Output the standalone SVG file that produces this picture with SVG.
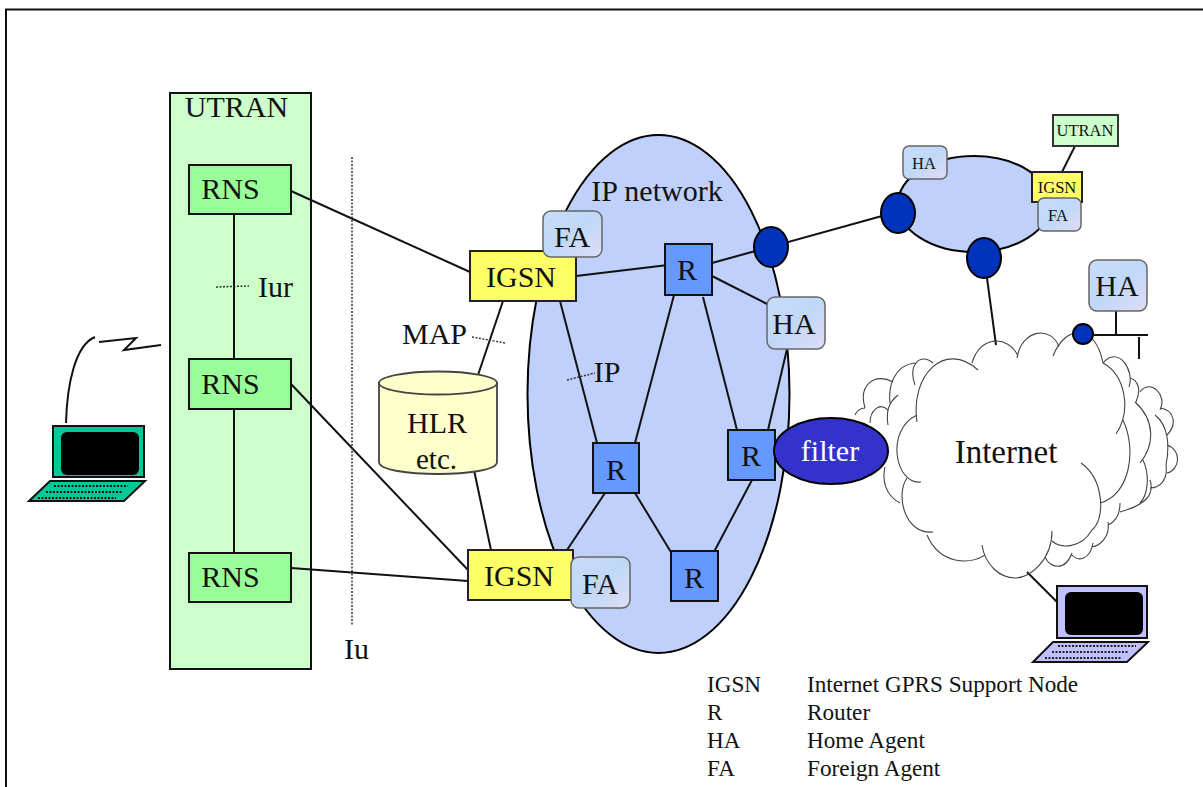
<svg xmlns="http://www.w3.org/2000/svg" width="1203" height="787" viewBox="0 0 1203 787">
<style>
text{font-family:"Liberation Serif","Times New Roman",serif;fill:#111;text-anchor:middle}
.l{text-anchor:start;font-size:23.200px}
.t{font-size:30px}
.s{font-size:16.500px}
.rns{fill:#99ff99;stroke:#111;stroke-width:2}
.ig{fill:#ffff66;stroke:#222;stroke-width:2}
.r{fill:#6699ff;stroke:#111;stroke-width:2}
.ag{fill:url(#mot);stroke:#666;stroke-width:1.5}
.dot{fill:#0033bb;stroke:#000;stroke-width:2}
.net{fill:#c0d0fc;stroke:#000;stroke-width:2}
.c line,.c path{stroke:#111;stroke-width:2;fill:none}
.c line.d{stroke:#333;stroke-width:1.5;stroke-dasharray:2 1.5}
.cl{fill:none;stroke:#444;stroke-width:1.1}
</style>
<defs>
<linearGradient id="mot" x1="0" y1="0" x2="1" y2="1">
<stop offset="0" stop-color="#c8dcf8"/><stop offset=".5" stop-color="#c0d8f8"/><stop offset="1" stop-color="#e0dcf6"/>
</linearGradient>
</defs>
<path d="M6 787V9.500H1203" fill="none" stroke="#111" stroke-width="2"/>

<g id="utran"><rect x="170" y="93" width="141" height="576" fill="#ccffcc" stroke="#111" stroke-width="2"/><text x="236.500" y="117" class="t">UTRAN</text></g>
<g id="ip-network"><ellipse cx="658.500" cy="394" rx="131" ry="259" class="net"/><text x="657" y="201" class="t">IP network</text></g>
<g id="ip-network-2"><ellipse cx="974" cy="204" rx="76" ry="48" class="net"/></g>

<g id="connectors" class="c">
<line x1="291" y1="191" x2="470" y2="272"/>
<line x1="291" y1="384" x2="468" y2="570"/>
<line x1="291" y1="568" x2="468" y2="581"/>
<line x1="234" y1="214" x2="234" y2="359"/>
<line x1="234" y1="409" x2="234" y2="553"/>
<line x1="503" y1="301" x2="478" y2="375"/>
<line x1="474" y1="470" x2="491" y2="550"/>
<line x1="576" y1="276" x2="668" y2="265"/>
<line x1="712" y1="263" x2="882" y2="216"/>
<line x1="712" y1="276" x2="767" y2="304"/>
<line x1="560" y1="301" x2="597" y2="443"/>
<line x1="674" y1="295" x2="635" y2="443"/>
<line x1="703" y1="297" x2="737" y2="430"/>
<line x1="787" y1="349" x2="768" y2="430"/>
<line x1="605" y1="493" x2="567" y2="550"/>
<line x1="635" y1="493" x2="680" y2="567"/>
<line x1="706" y1="567" x2="752" y2="480"/>
<line x1="1075" y1="146" x2="1062" y2="172"/>
<line x1="987" y1="278" x2="996" y2="345"/>
<line x1="1116" y1="311" x2="1116" y2="335"/>
<line x1="1093" y1="335" x2="1148" y2="335"/>
<line x1="1139" y1="337" x2="1139" y2="359"/>
<line x1="1027" y1="572" x2="1057" y2="602"/>
<path d="M66 423C67 385 75 345 95 337"/>
<path d="M99 342L136 338L124 350L161 345"/>
<line x1="216" y1="287" x2="249" y2="286" class="d"/>
<line x1="352" y1="157" x2="352" y2="625" class="d"/>
<line x1="472" y1="337" x2="505" y2="343" class="d"/>
<line x1="567" y1="380" x2="595" y2="373" class="d"/>
</g>

<g id="internet">
<path class="cl" d="M917 422C910 375 945 340 978 370M972 363C980 335 1008 335 1018 356M1017 358C1022 328 1052 326 1059 347M1053 356C1065 325 1095 322 1103 363M1103 363C1125 375 1132 410 1116 434M1123 420C1137 450 1130 495 1100 503M1081 463C1105 480 1105 520 1092 530C1080 550 1060 548 1052 541M1052 531C1052 560 1030 578 1015 578C1000 578 985 565 982 545M985 555C970 565 940 565 927 535M933 532C905 535 895 495 907 478M921 482C895 485 885 430 917 415"/>
<path class="cl" d="M900 503C885 495 882 480 885 467M865 408C858 385 875 372 893 382M890 403C888 385 895 365 915 363M915 385C908 365 920 352 933 363M898 395C888 403 886 412 888 425M888 410C880 402 870 410 870 423M865 408C860 408 856 412 855 415M1103 363C1118 345 1135 370 1129 387M1130 378C1137 380 1142 388 1136 402M1140 392C1150 378 1168 395 1160 410M1160 408C1175 410 1177 425 1167 435M1155 415C1168 425 1170 445 1166 465M1167 445C1182 450 1180 470 1167 473M1166 465C1168 480 1160 488 1150 488M1135 402C1155 420 1155 445 1140 463M1143 460C1150 475 1148 495 1140 503M1150 480C1155 495 1145 505 1120 512M1120 503C1120 515 1115 522 1108 525M1108 522C1110 535 1102 545 1092 547M1093 543C1090 560 1078 562 1072 555M1072 553C1065 572 1050 568 1045 557"/>
<text x="1006" y="463" style="font-size:33px">Internet</text>
</g>

<g id="rns1"><rect x="189" y="165" width="102" height="49" class="rns"/><text x="230.500" y="199" class="t">RNS</text></g>
<g id="rns2"><rect x="189" y="359" width="102" height="50" class="rns"/><text x="230.500" y="394" class="t">RNS</text></g>
<g id="rns3"><rect x="189" y="553" width="102" height="49" class="rns"/><text x="230.500" y="587" class="t">RNS</text></g>

<g id="hlr">
<path d="M379 383V462C379 478 497 478 497 462V383Z" fill="#ffffcc" stroke="#444" stroke-width="1.800"/>
<ellipse cx="438" cy="383" rx="59" ry="11.500" fill="#ffffcc" stroke="#444" stroke-width="1.800"/>
<text x="437" y="433" class="t">HLR</text><text x="436.500" y="469" style="font-size:29px">etc.</text>
</g>

<g id="igsn1"><rect x="470" y="251" width="106" height="50" class="ig"/><text x="521" y="287" class="t">IGSN</text></g>
<g id="fa1"><rect x="543" y="211" width="59" height="46" rx="8" class="ag"/><text x="572" y="247" class="t">FA</text></g>
<g id="igsn2"><rect x="468" y="550" width="105" height="50" class="ig"/><text x="519" y="586" class="t">IGSN</text></g>
<g id="fa2"><rect x="571" y="557" width="59" height="51" rx="8" class="ag"/><text x="600" y="594" class="t">FA</text></g>

<g id="r1"><rect x="665" y="244" width="47" height="51" class="r"/><text x="687" y="280" class="t">R</text></g>
<g id="r2"><rect x="593" y="443" width="46" height="50" class="r"/><text x="616" y="480" class="t">R</text></g>
<g id="r3"><rect x="728" y="430" width="47" height="50" class="r"/><text x="751" y="466" class="t">R</text></g>
<g id="r4"><rect x="671" y="551" width="47" height="50" class="r"/><text x="694" y="588" class="t">R</text></g>

<g id="ha1"><rect x="767" y="297" width="58" height="52" rx="8" class="ag"/><text x="794" y="334" class="t">HA</text></g>
<g id="gw1"><ellipse cx="771" cy="247" rx="17" ry="20" class="dot"/></g>
<g id="gw2"><ellipse cx="898" cy="213" rx="17" ry="20" class="dot"/></g>
<g id="gw3"><ellipse cx="984" cy="258" rx="17" ry="20" class="dot"/></g>
<g id="gw4"><circle cx="1083" cy="334" r="10" class="dot"/></g>
<g id="filter"><ellipse cx="831" cy="451" rx="57" ry="33" fill="#3333cc" stroke="#000" stroke-width="2"/><text x="830" y="461" style="font-size:30px;fill:#fff">filter</text></g>

<g id="utran2"><rect x="1053" y="115" width="65" height="31" fill="#ccffcc" stroke="#333" stroke-width="2"/><text x="1085" y="136" class="s">UTRAN</text></g>
<g id="igsn3"><rect x="1032" y="172" width="50" height="30" class="ig"/><text x="1057" y="193" class="s">IGSN</text></g>
<g id="fa3"><rect x="1038" y="198" width="43" height="33" rx="6" class="ag"/><text x="1058" y="221" class="s">FA</text></g>
<g id="ha2"><rect x="903" y="146" width="44" height="33" rx="6" class="ag"/><text x="924" y="169" class="s">HA</text></g>
<g id="ha3"><rect x="1089" y="260" width="58" height="51" rx="8" class="ag"/><text x="1117" y="296" class="t">HA</text></g>

<g id="laptop1">
<rect x="53" y="426" width="91" height="51" fill="#00c896" stroke="#111" stroke-width="2"/>
<rect x="61" y="432" width="78" height="43" rx="6" fill="#000"/>
<path d="M50 481H145L124 501H29Z" fill="#00c896" stroke="#111" stroke-width="2"/>
<path d="M54 486H128M46 492H122M38 498H116" stroke="#111" stroke-width="2" stroke-dasharray="2 1.500" fill="none"/>
</g>
<g id="laptop2">
<rect x="1057" y="586" width="90" height="52" fill="#c0c0fc" stroke="#111" stroke-width="2"/>
<rect x="1065" y="592" width="78" height="43" rx="6" fill="#000"/>
<path d="M1053 642H1148L1127 662H1033Z" fill="#c0c0fc" stroke="#111" stroke-width="2"/>
<path d="M1058 646H1136M1052 652H1128M1045 658H1122" stroke="#222" stroke-width="2" stroke-dasharray="2 1.500" fill="none"/>
</g>

<g id="labels">
<text x="275.500" y="297" class="t">Iur</text>
<text x="356.500" y="659" class="t">Iu</text>
<text x="434.500" y="344" class="t">MAP</text>
<text x="607" y="382" class="t">IP</text>
</g>
<g id="legend">
<text x="707" y="692" class="l">IGSN</text><text x="807" y="692" class="l">Internet GPRS Support Node</text>
<text x="707" y="720" class="l">R</text><text x="807" y="720" class="l">Router</text>
<text x="707" y="748" class="l">HA</text><text x="807" y="748" class="l">Home Agent</text>
<text x="707" y="776" class="l">FA</text><text x="807" y="776" class="l">Foreign Agent</text>
</g>
</svg>
